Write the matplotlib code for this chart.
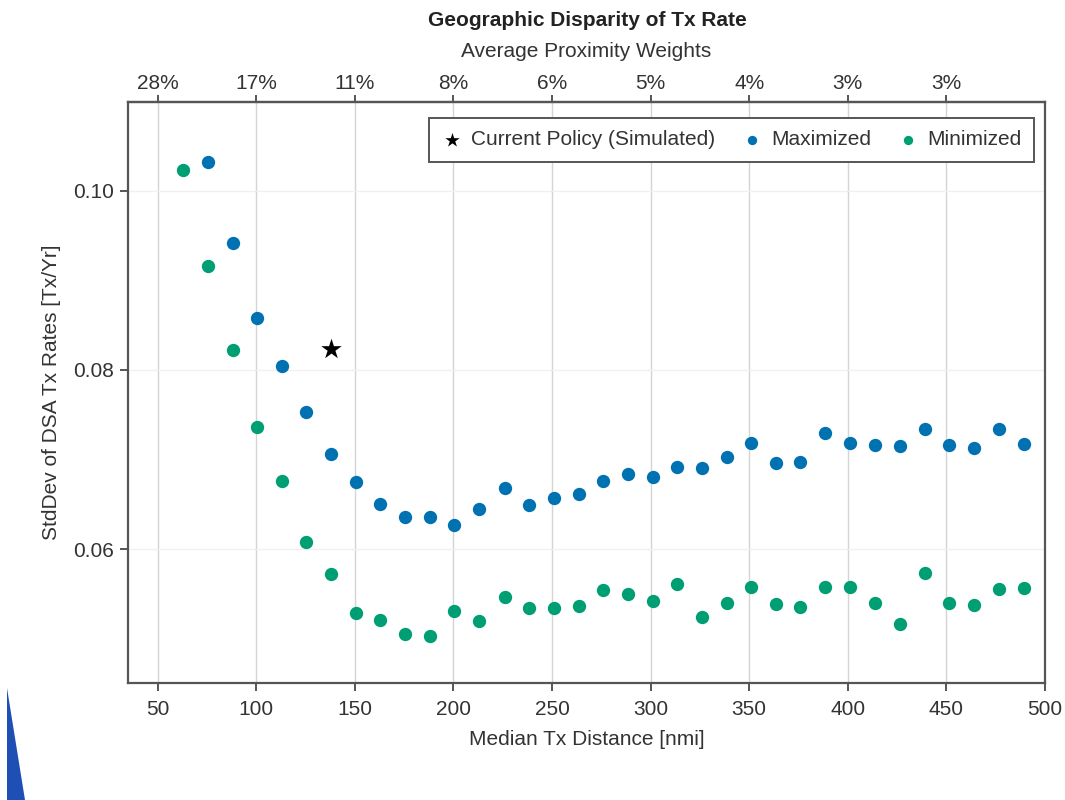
import matplotlib
matplotlib.use("Agg")
import matplotlib.pyplot as plt
from matplotlib.patches import Polygon

plt.rcParams['font.family'] = ['Liberation Sans', 'DejaVu Sans']

# ---- data ----
x_max = [75.5, 88, 100.5, 113, 125.5, 138, 150.5, 163, 175.5, 188, 200.5, 213,
         226, 238.5, 251, 263.5, 276, 288.5, 301, 313.5, 326, 338.5, 351, 363.5,
         376, 388.5, 401, 414, 426.5, 439, 451.5, 464, 476.5, 489.5]
y_max = [0.1032, 0.0942, 0.0858, 0.0804, 0.0753, 0.0706, 0.0675, 0.0650, 0.0636,
         0.0636, 0.0627, 0.0645, 0.0668, 0.0649, 0.0657, 0.0661, 0.0676, 0.0684,
         0.0680, 0.0692, 0.0691, 0.0703, 0.0718, 0.0696, 0.0697, 0.0730, 0.0718,
         0.0716, 0.0715, 0.0734, 0.0716, 0.0713, 0.0734, 0.0717]
x_min = [63] + x_max
y_min = [0.1023, 0.0916, 0.0822, 0.0736, 0.0676, 0.0608, 0.0572, 0.0528, 0.0521,
         0.0505, 0.0503, 0.0531, 0.0520, 0.0546, 0.0534, 0.0534, 0.0536, 0.0554,
         0.0550, 0.0542, 0.0561, 0.0524, 0.0540, 0.0558, 0.0539, 0.0535, 0.0557,
         0.0557, 0.0540, 0.0516, 0.0573, 0.0540, 0.0537, 0.0555, 0.0556]
x_cur = [138]
y_cur = [0.0823]

bottom_ticks = [50, 100, 150, 200, 250, 300, 350, 400, 450, 500]
top_ticks = [50, 100, 150, 200, 250, 300, 350, 400, 450]
top_labels = ['28%', '17%', '11%', '8%', '6%', '5%', '4%', '3%', '3%']
y_ticks = [0.06, 0.08, 0.10]
y_labels = ['0.06', '0.08', '0.10']

BLUE = '#0072B2'
GREEN = '#009E73'
SPINE = '#555555'
TXT = '#333333'
FS = 15

fig = plt.figure(figsize=(10.65, 8), dpi=100)
ax = fig.add_axes([128/1065, 1-683/800, (1045-128)/1065, (683-102)/800])

ax.scatter(x_cur, y_cur, marker='*', s=240, color='black', zorder=4,
           label='Current Policy (Simulated)', linewidths=0)
ax.scatter(x_max, y_max, s=92, color=BLUE, zorder=3, label='Maximized', linewidths=0)
ax.scatter(x_min, y_min, s=92, color=GREEN, zorder=3, label='Minimized', linewidths=0)

ax.set_xlim(35, 500)
ax.set_ylim(0.04503, 0.10994)
ax.set_xticks(bottom_ticks)
ax.set_yticks(y_ticks)
ax.set_yticklabels(y_labels)

for x in top_ticks:
    ax.axvline(x, color='#d4d4d4', lw=1.0, zorder=0)
for y in y_ticks:
    ax.axhline(y, color='#f0f0f0', lw=1.0, zorder=0)

for s in ax.spines.values():
    s.set_color(SPINE)
    s.set_linewidth(1.6)

ax.tick_params(axis='x', direction='out', length=6, width=1.4, color=SPINE,
               labelsize=FS, labelcolor=TXT, pad=6.5)
ax.tick_params(axis='y', direction='out', length=6, width=1.4, color=SPINE,
               labelsize=FS, labelcolor=TXT, pad=4)

ax.set_xlabel('Median Tx Distance [nmi]', fontsize=FS, color=TXT, labelpad=8)
ax.set_ylabel('StdDev of DSA Tx Rates [Tx/Yr]', fontsize=FS, color=TXT, labelpad=9)

top = ax.secondary_xaxis('top')
top.set_xticks(top_ticks)
top.set_xticklabels(top_labels)
top.tick_params(direction='out', length=5, width=1.4, color=SPINE,
                labelsize=FS, labelcolor=TXT, pad=1.5)
top.spines['top'].set_color(SPINE)
top.spines['top'].set_linewidth(1.6)
top.set_xlabel('Average Proximity Weights', fontsize=FS, color=TXT, labelpad=12)

fig.text(587/1065, 1-20/800, 'Geographic Disparity of Tx Rate', ha='center', va='center',
         fontsize=FS, fontweight='bold', color='#222222')

leg = ax.legend(loc='upper right', ncol=3, fontsize=FS, frameon=True, fancybox=False,
                edgecolor=SPINE, framealpha=1, borderpad=0.6, handletextpad=0.4,
                handlelength=1.0, columnspacing=1.3, borderaxespad=0,
                bbox_to_anchor=(0.988, 0.9725), markerscale=0.7)
leg.get_frame().set_linewidth(1.4)
for t in leg.get_texts():
    t.set_color(TXT)

# blue sliver artifact at bottom-left
fig.patches.append(Polygon([(7/1065, 1-688/800), (7/1065, 0), (25/1065, 0)],
                           closed=True, transform=fig.transFigure,
                           facecolor='#1f4fb5', edgecolor='none'))

fig.savefig('out.png', dpi=100, facecolor='white')
